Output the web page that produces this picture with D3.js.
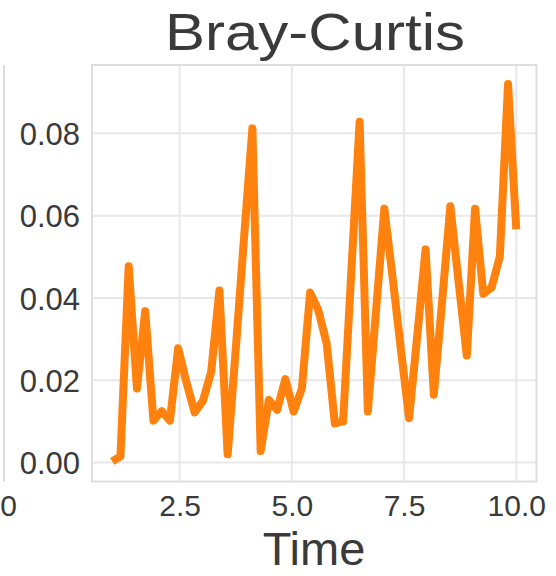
<!DOCTYPE html>
<html>
<head>
<meta charset="utf-8">
<script src="https://cdn.jsdelivr.net/npm/d3@7"></script>
<style>
  html, body { margin: 0; padding: 0; background: #fff; }
  svg { display: block; }
  text { font-family: "Liberation Sans", Arial, Helvetica, sans-serif; }
</style>
</head>
<body>
<svg id="chart" width="556" height="576"></svg>
<script>
// Bray-Curtis dissimilarity over time (50 evenly spaced samples from t=1 to t=10)
const timeStart = 1;
const timeEnd = 10;
const sampleCount = 50;
const brayCurtis = [
  0.0003, 0.0015, 0.0477, 0.0180, 0.0368, 0.0102, 0.0125, 0.0102, 0.0278, 0.0195,
  0.0122, 0.0150, 0.0220, 0.0418, 0.0020, 0.0280, 0.0550, 0.0812, 0.0028, 0.0152,
  0.0128, 0.0203, 0.0124, 0.0180, 0.0413, 0.0370, 0.0290, 0.0095, 0.0100, 0.0465,
  0.0828, 0.0124, 0.0370, 0.0617, 0.0450, 0.0276, 0.0108, 0.0310, 0.0518, 0.0165,
  0.0390, 0.0623, 0.0440, 0.0260, 0.0617, 0.0410, 0.0425, 0.0500, 0.0920, 0.0567
];
const xTicks = [2.5, 5.0, 7.5, 10.0];
const yTicks = [0.00, 0.02, 0.04, 0.06, 0.08];
const titleText = "Bray-Curtis";
const xLabelText = "Time";

const series = brayCurtis.map((v, i) => ({
  t: timeStart + i * (timeEnd - timeStart) / (sampleCount - 1),
  v
}));

const svg = d3.select("#chart");
const frame = { left: 92, right: 536.5, top: 65, bottom: 481.5 };

// 5% padding on both axes around the data extent
function padded(extent) {
  const r = extent[1] - extent[0];
  return [extent[0] - 0.05 * r, extent[1] + 0.05 * r];
}
const x = d3.scaleLinear()
  .domain(padded(d3.extent(series, d => d.t)))
  .range([frame.left, frame.right]);
const y = d3.scaleLinear()
  .domain(padded([0, d3.max(series, d => d.v)]))
  .range([frame.bottom, frame.top]);

const gridColor = "#e8e8e8";
const textColor = "#3a3a3a";

// edge of the neighbouring panel on the left
svg.append("line")
  .attr("x1", 4).attr("x2", 4)
  .attr("y1", frame.top).attr("y2", frame.bottom)
  .attr("stroke", "#dcdcdc").attr("stroke-width", 2);
svg.append("text")
  .attr("x", 17).attr("y", 516)
  .attr("text-anchor", "end")
  .attr("font-size", 30).attr("fill", textColor)
  .text("0");

// gridlines
const grid = svg.append("g");
grid.selectAll("line.gx").data(xTicks).join("line")
  .attr("class", "gx")
  .attr("x1", d => x(d)).attr("x2", d => x(d))
  .attr("y1", frame.top).attr("y2", frame.bottom)
  .attr("stroke", gridColor).attr("stroke-width", 2);
grid.selectAll("line.gy").data(yTicks).join("line")
  .attr("class", "gy")
  .attr("x1", frame.left).attr("x2", frame.right)
  .attr("y1", d => y(d)).attr("y2", d => y(d))
  .attr("stroke", gridColor).attr("stroke-width", 2);

// plot frame
svg.append("rect")
  .attr("x", frame.left).attr("y", frame.top)
  .attr("width", frame.right - frame.left)
  .attr("height", frame.bottom - frame.top)
  .attr("fill", "none").attr("stroke", "#dedede").attr("stroke-width", 2);

// axes (labels only, no tick marks)
const xAxis = svg.append("g")
  .attr("transform", `translate(0,${frame.bottom})`)
  .call(d3.axisBottom(x).tickValues(xTicks).tickFormat(d3.format(".1f")).tickSize(0).tickPadding(0));
xAxis.select(".domain").remove();
xAxis.selectAll("text")
  .attr("y", 34.5).attr("dy", null)
  .attr("font-size", 30).attr("fill", textColor)
  .attr("font-family", "Liberation Sans, Arial, sans-serif");

const yAxis = svg.append("g")
  .attr("transform", `translate(${frame.left},0)`)
  .call(d3.axisLeft(y).tickValues(yTicks).tickFormat(d3.format(".2f")).tickSize(0).tickPadding(12));
yAxis.select(".domain").remove();
yAxis.selectAll("text")
  .attr("dy", "0.36em")
  .attr("font-size", 31).attr("fill", textColor)
  .attr("font-family", "Liberation Sans, Arial, sans-serif");

// series line
const line = d3.line().x(d => x(d.t)).y(d => y(d.v));
svg.append("path")
  .datum(series)
  .attr("d", line)
  .attr("fill", "none")
  .attr("stroke", "#ff820e")
  .attr("stroke-width", 8)
  .attr("stroke-linejoin", "round")
  .attr("stroke-linecap", "butt");

// title and axis label
svg.append("text")
  .attr("x", 315).attr("y", 50)
  .attr("text-anchor", "middle")
  .attr("font-size", 52).attr("fill", textColor)
  .attr("textLength", 300).attr("lengthAdjust", "spacingAndGlyphs")
  .text(titleText);
svg.append("text")
  .attr("x", 314).attr("y", 565)
  .attr("text-anchor", "middle")
  .attr("font-size", 47).attr("fill", textColor)
  .text(xLabelText);
</script>
</body>
</html>
